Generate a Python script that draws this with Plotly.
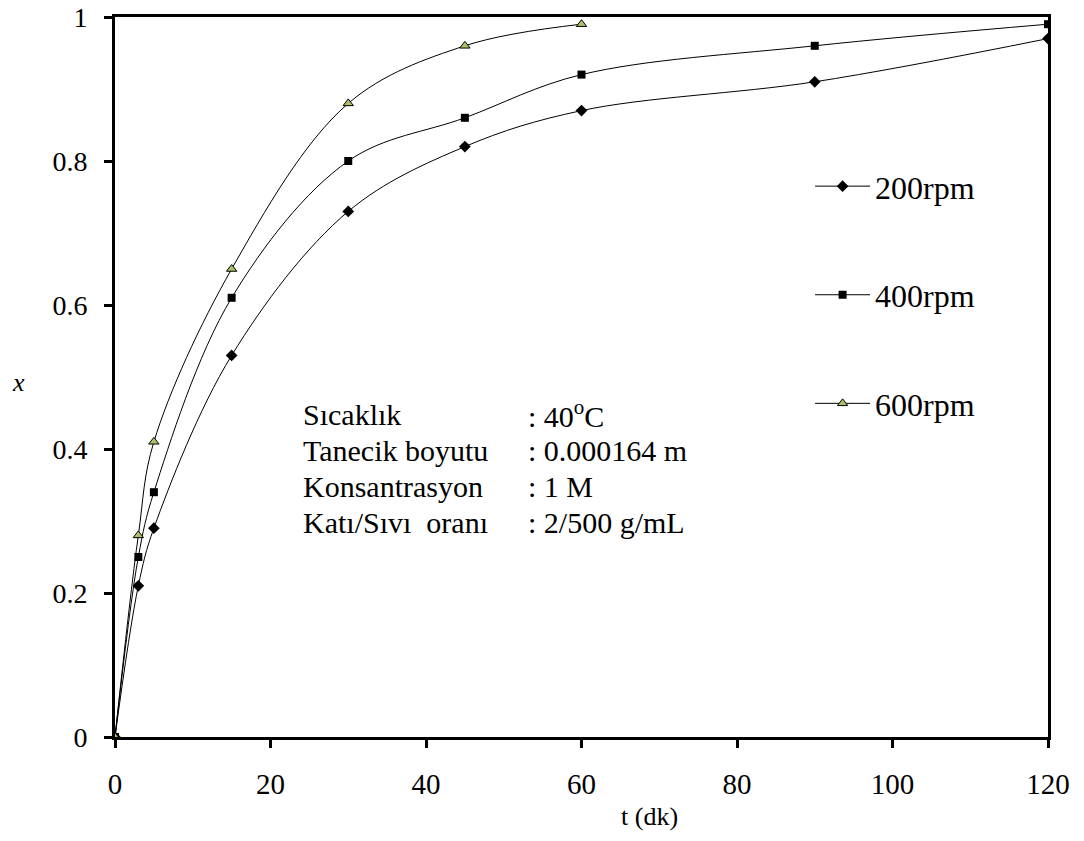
import plotly.graph_objects as go

t_200 = [0, 3, 5, 15, 30, 45, 60, 90, 120]
x_200 = [0, 0.21, 0.29, 0.53, 0.73, 0.82, 0.87, 0.91, 0.97]
t_400 = [0, 3, 5, 15, 30, 45, 60, 90, 120]
x_400 = [0, 0.25, 0.34, 0.61, 0.80, 0.86, 0.92, 0.96, 0.99]
t_600 = [0, 3, 5, 15, 30, 45, 60]
x_600 = [0, 0.28, 0.41, 0.65, 0.88, 0.96, 0.99]

labels = ["Sıcaklık", "Tanecik boyutu", "Konsantrasyon", "Katı/Sıvı  oranı"]
values = [": 40<sup>o</sup>C", ": 0.000164 m", ": 1 M", ": 2/500 g/mL"]

FONT = "Liberation Serif"

fig = go.Figure()
fig.add_trace(go.Scatter(x=t_200, y=x_200, name="200rpm", mode="lines+markers",
                         line=dict(color="black", width=1, shape="spline", smoothing=1),
                         marker=dict(symbol="diamond", size=9, color="black"),
                         legendgroup="a"))
fig.add_trace(go.Scatter(x=t_400, y=x_400, name="400rpm", mode="lines+markers",
                         line=dict(color="black", width=1, shape="spline", smoothing=1),
                         marker=dict(symbol="square", size=8, color="black"),
                         legendgroup="b"))
fig.add_trace(go.Scatter(x=t_600, y=x_600, name="600rpm", mode="lines+markers",
                         line=dict(color="black", width=1, shape="spline", smoothing=1),
                         marker=dict(symbol="triangle-up", size=9, color="#a9c26a",
                                     line=dict(color="black", width=1)),
                         legendgroup="c"))

ys = [0.448, 0.398, 0.348, 0.298]
for lab, val, yy in zip(labels, values, ys):
    fig.add_annotation(x=0.199, y=yy, xref="paper", yref="paper", text=lab,
                       showarrow=False, xanchor="left", yanchor="middle",
                       font=dict(family=FONT, size=30, color="black"))
    fig.add_annotation(x=0.44, y=yy, xref="paper", yref="paper", text=val,
                       showarrow=False, xanchor="left", yanchor="middle",
                       font=dict(family=FONT, size=30, color="black"))

fig.add_annotation(x=-0.113, y=0.493, xref="paper", yref="paper", text="<i>x</i>",
                   showarrow=False, font=dict(family=FONT, size=26, color="black"))
fig.add_annotation(x=0.573, y=-0.11, xref="paper", yref="paper", text="t (dk)",
                   showarrow=False, yanchor="middle",
                   font=dict(family=FONT, size=26, color="black"))

fig.update_layout(
    width=1084, height=841,
    margin=dict(l=115, r=36, t=17, b=104),
    paper_bgcolor="white", plot_bgcolor="white",
    font=dict(family=FONT, size=29, color="black"),
    legend=dict(x=0.745, y=0.803, xanchor="left", yanchor="top",
                tracegroupgap=64, bgcolor="rgba(0,0,0,0)", itemwidth=55,
                font=dict(family=FONT, size=32)),
    xaxis=dict(range=[0, 120], tickvals=[0, 20, 40, 60, 80, 100, 120],
               showgrid=False, zeroline=False, showline=True, linecolor="black",
               linewidth=3, mirror=True, ticks="outside", ticklen=8, tickwidth=3,
               tickcolor="black", ticklabelstandoff=11, automargin=False,
               ticklabeloverflow="allow",
               tickfont=dict(family=FONT, size=29)),
    yaxis=dict(range=[0, 1], tickvals=[0, 0.2, 0.4, 0.6, 0.8, 1],
               ticktext=["0", "0.2", "0.4", "0.6", "0.8", "1"],
               showgrid=False, zeroline=False, showline=True, linecolor="black",
               linewidth=3, mirror=True, ticks="outside", ticklen=8, tickwidth=3,
               tickcolor="black", ticklabelstandoff=11, automargin=False,
               ticklabeloverflow="allow",
               tickfont=dict(family=FONT, size=28)),
)

fig.write_html("out.html")
